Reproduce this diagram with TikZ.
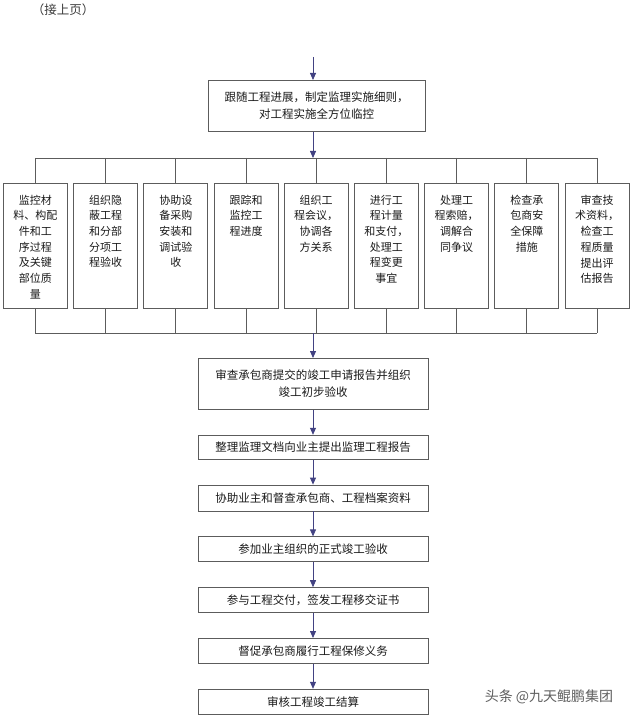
\documentclass[tikz,border=0pt]{standalone}
\usepackage{fontspec}
\setmainfont{Noto Sans CJK SC}
\usepackage{tikz}
\usetikzlibrary{arrows.meta,positioning}
\usepackage{xcolor}
\definecolor{linegray}{HTML}{5C5C5C}
\definecolor{flowblue}{HTML}{424282}
\definecolor{darktext}{HTML}{1A1A1A}
\newcommand{\coltext}[1]{\parbox[c][102pt][t]{60pt}{\centering\baselineskip=15.7pt #1}}

\begin{document}
\begin{tikzpicture}[x=1pt, y=-1pt,
  stepbox/.style={rectangle, draw=linegray, line width=0.8pt,
               minimum width=230pt, minimum height=25pt, inner sep=2pt,
               font=\fontsize{11.5}{17}\selectfont, text=darktext, align=center},
  colbox/.style={rectangle, draw=linegray, line width=0.8pt,
               minimum width=64pt, minimum height=125pt, inner sep=0pt,
               anchor=north, font=\fontsize{11}{15.7}\selectfont, text=darktext},
  bus/.style={draw=linegray, line width=0.8pt},
  flow/.style={-{Triangle[length=7pt, width=6pt]}, line width=0.8pt, color=flowblue},
]
  \useasboundingbox (0,0) rectangle (640,719);

  \node[font=\fontsize{12.5}{12.5}\selectfont, text=darktext!85] (cont) at (63,10) {（接上页）};
  \coordinate (start) at (313,57);
  \coordinate (busT) at (0,158);
  \coordinate (busB) at (0,333);

  \node[stepbox, minimum width=217pt, minimum height=51pt, anchor=north] (track) at (316.5,80)
    {跟随工程进展，制定监理实施细则，\\对工程实施全方位临控};

  % nine parallel tasks
  \node[colbox] (col1) at (35.4,183) {\coltext{监控材\\料、构配\\件和工\\序过程\\及关键\\部位质\\量}};
  \node[colbox, right=5.4pt of col1] (col2) {\coltext{组织隐\\蔽工程\\和分部\\分项工\\程验收}};
  \node[colbox, right=5.4pt of col2] (col3) {\coltext{协助设\\备采购\\安装和\\调试验\\收}};
  \node[colbox, right=5.4pt of col3] (col4) {\coltext{跟踪和\\监控工\\程进度}};
  \node[colbox, right=5.4pt of col4] (col5) {\coltext{组织工\\程会议，\\协调各\\方关系}};
  \node[colbox, right=5.4pt of col5] (col6) {\coltext{进行工\\程计量\\和支付，\\处理工\\程变更\\事宜}};
  \node[colbox, right=5.4pt of col6] (col7) {\coltext{处理工\\程索赔，\\调解合\\同争议}};
  \node[colbox, right=5.4pt of col7] (col8) {\coltext{检查承\\包商安\\全保障\\措施}};
  \node[colbox, right=5.4pt of col8] (col9) {\coltext{审查技\\术资料，\\检查工\\程质量\\提出评\\估报告}};

  % completion stage
  \node[stepbox, minimum height=51pt, anchor=north] (review) at (313,358)
    {审查承包商提交的竣工申请报告并组织\\竣工初步验收};
  \node[stepbox, below=25pt of review, minimum height=24pt] (report) {整理监理文档向业主提出监理工程报告};
  \node[stepbox, below=25pt of report, minimum height=26pt] (archive) {协助业主和督查承包商、工程档案资料};
  \node[stepbox, below=25pt of archive] (accept) {参加业主组织的正式竣工验收};
  \node[stepbox, below=25pt of accept] (handover) {参与工程交付，签发工程移交证书};
  \node[stepbox, below=25pt of handover] (warranty) {督促承包商履行工程保修义务};
  \node[stepbox, below=25pt of warranty] (settle) {审核工程竣工结算};

  \draw[flow] (start) -- (start |- track.north);
  \draw[flow] (start |- track.south) -- (start |- busT);

  \foreach \i in {1,...,9} {
    \draw[bus] (col\i.north |- busT) -- (col\i.north);
    \draw[bus] (col\i.south) -- (col\i.south |- busB);
  }
  \draw[bus] (col1.north |- busT) -- (col9.north |- busT);
  \draw[bus] (col1.south |- busB) -- (col9.south |- busB);

  \draw[flow] (start |- busB) -- (review.north);
  \draw[flow] (review) -- (report);
  \draw[flow] (report) -- (archive);
  \draw[flow] (archive) -- (accept);
  \draw[flow] (accept) -- (handover);
  \draw[flow] (handover) -- (warranty);
  \draw[flow] (warranty) -- (settle);

  \node[font=\fontsize{14}{14}\selectfont, text=darktext!70] (mark) at (549,697) {头条 @九天鲲鹏集团};
\end{tikzpicture}
\end{document}
